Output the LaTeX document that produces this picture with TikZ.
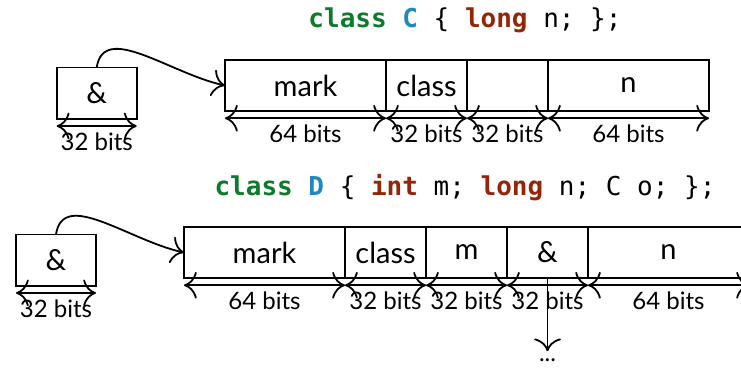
\documentclass[tikz,border=0pt]{standalone}
\usepackage{fontspec}
\setmainfont{Lato}
\setmonofont{DejaVu Sans Mono}
\usetikzlibrary{arrows.meta}
\definecolor{kwgreen}{HTML}{0E7A2C}
\definecolor{kwblue}{HTML}{2088BE}
\definecolor{kwred}{HTML}{952508}
\tikzset{
  tip/.tip={Computer Modern Rightarrow[scale=2.3]},
  cell/.style={draw, line width=1.8pt, inner sep=0pt, outer sep=0pt, minimum height=51.5pt, font=\fontsize{29}{30}\selectfont, anchor=west},
  wsixtyfour/.style={minimum width=161pt},
  wthirtytwo/.style={minimum width=81pt},
  dim/.style={line width=1.8pt, tip-tip},
  conn/.style={line width=1.8pt, -tip},
  bitlabel/.style={font=\fontsize{24}{25}\selectfont, inner sep=0pt},
  code/.style={font=\ttfamily\fontsize{26}{27}\selectfont, inner sep=0pt},
}
\newcommand{\kwg}[1]{\textbf{\color{kwgreen}#1}}
\newcommand{\kwb}[1]{\textbf{\color{kwblue}#1}}
\newcommand{\kwr}[1]{\textbf{\color{kwred}#1}}
\begin{document}
\begin{tikzpicture}[x=1pt,y=1pt]
\useasboundingbox (0,0) rectangle (741,369);
% ---------- class C ----------
\node[code] (tc) at (465,349) {\kwg{class} \kwb{C} \{ \kwr{long} n; \};};
\node[cell, minimum width=80pt, anchor=center] (ac) at (96.7,275.7) {\&};
\node[cell, wsixtyfour] (cm) at (225,283.5) {mark};
\node[cell, wthirtytwo] (cc) at (cm.east) {class};
\node[cell, wthirtytwo] (ce) at (cc.east) {};
\node[cell, wsixtyfour] (cn) at (ce.east) {n};
\foreach \n/\t in {ac/32 bits, cm/64 bits, cc/32 bits, ce/32 bits, cn/64 bits}{
  \draw[dim] ([yshift=-7pt]\n.south west) -- ([yshift=-7pt]\n.south east);
  \node[bitlabel] at ([yshift=-23pt]\n.south) {\t};
}
\draw[conn] (ac.north) .. controls +(7,46) and +(-55,12) .. (cm.west);
% ---------- class D ----------
\node[code] (td) at (465,181) {\kwg{class} \kwb{D} \{ \kwr{int} m; \kwr{long} n; C o; \};};
\node[cell, minimum width=80pt, anchor=center] (ad) at (56,108.8) {\&};
\node[cell, wsixtyfour] (dm) at (184,116.5) {mark};
\node[cell, wthirtytwo] (dc) at (dm.east) {class};
\node[cell, wthirtytwo] (dmm) at (dc.east) {m};
\node[cell, wthirtytwo] (da) at (dmm.east) {\&};
\node[cell, wsixtyfour] (dn) at (da.east) {n};
\foreach \n/\t in {ad/32 bits, dm/64 bits, dc/32 bits, dmm/32 bits, da/32 bits, dn/64 bits}{
  \draw[dim] ([yshift=-7pt]\n.south west) -- ([yshift=-7pt]\n.south east);
  \node[bitlabel] at ([yshift=-23pt]\n.south) {\t};
}
\draw[conn] (ad.north) .. controls +(7,46) and +(-55,12) .. (dm.west);
\coordinate (dend) at ([yshift=-73pt]da.south);
\draw[conn] (da.south) -- (dend);
\node[bitlabel, anchor=base] (dots) at ([yshift=-10pt]dend) {...};
\end{tikzpicture}
\end{document}
